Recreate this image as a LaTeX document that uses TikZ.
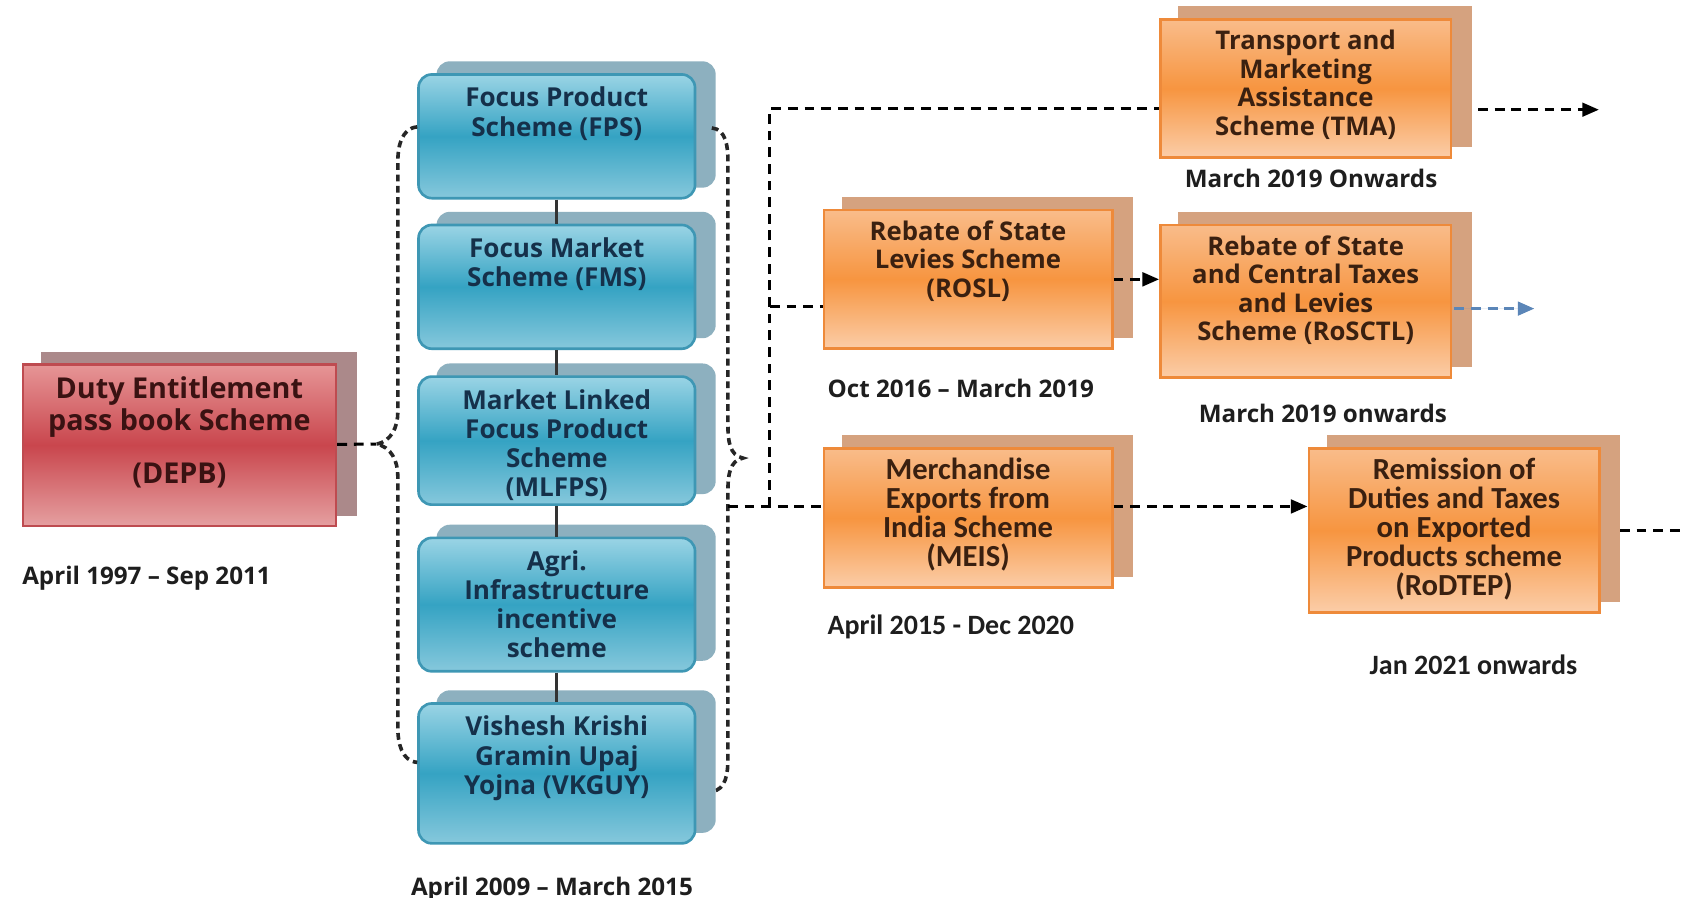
\documentclass[tikz,border=0pt]{standalone}
\usepackage{fontspec}
\setmainfont{Open Sans}
\newfontfamily\calibfont{Carlito}
\usetikzlibrary{arrows.meta}
\usetikzlibrary{positioning}
\usetikzlibrary{backgrounds}

\definecolor{redtop}{HTML}{E69596}
\definecolor{redmid}{HTML}{C9464D}
\definecolor{redbot}{HTML}{E5A0A1}
\definecolor{redline}{HTML}{BE4B50}
\definecolor{redback}{HTML}{AB898A}
\definecolor{redtext}{HTML}{3A1212}
\definecolor{bluetop}{HTML}{9AD4E5}
\definecolor{bluemid}{HTML}{35A3C3}
\definecolor{bluebot}{HTML}{86C8DC}
\definecolor{blueline}{HTML}{3E97B4}
\definecolor{blueback}{HTML}{8DB0BF}
\definecolor{bluetext}{HTML}{15304A}
\definecolor{orangetop}{HTML}{F9BC8A}
\definecolor{orangemid}{HTML}{F79540}
\definecolor{orangebot}{HTML}{FBCDA8}
\definecolor{orangeline}{HTML}{EE8A3A}
\definecolor{orangeback}{HTML}{D5A27F}
\definecolor{orangetext}{HTML}{3A2010}
\definecolor{datetext}{HTML}{1E1E1E}
\definecolor{tailblue}{HTML}{5B86B8}

\begin{document}
\lineskiplimit=-10pt
\begin{tikzpicture}[x=0.01cm, y=0.01cm,
  box/.style={rectangle, anchor=north west, inner sep=0pt, line width=0.7pt},
  depbbox/.style={box, draw=redline, top color=redtop, bottom color=redbot, middle color=redmid},
  schemebox/.style={box, rounded corners=3.5pt, draw=blueline, top color=bluetop, bottom color=bluebot, middle color=bluemid, minimum width=2.57cm},
  newbox/.style={box, draw=orangeline, top color=orangetop, bottom color=orangebot, middle color=orangemid},
  boxtext/.style={align=center, inner sep=0pt},
  depbtext/.style={boxtext, text=redtext, font=\bfseries\fontsize{7.6}{8.5}\selectfont},
  schemetext/.style={boxtext, text=bluetext, font=\bfseries\fontsize{6.9}{7.7}\selectfont},
  newtext/.style={boxtext, text=orangetext, font=\bfseries\fontsize{6.8}{7.5}\selectfont},
  newtextc/.style={boxtext, text=orangetext, font=\calibfont\bfseries\fontsize{8.1}{7.65}\selectfont},
  datelabel/.style={inner sep=0pt, text=datetext, font=\bfseries\fontsize{6.4}{7.5}\selectfont},
  datelabelc/.style={inner sep=0pt, text=datetext, font=\calibfont\bfseries\fontsize{7.4}{8}\selectfont},
  link/.style={draw=black, line width=0.8pt, dash pattern=on 2.6pt off 1.8pt},
  bracket/.style={draw=black!85, line width=0.95pt, dash pattern=on 1.8pt off 1.2pt},
  joint/.style={draw=black!80, line width=0.9pt},
  headtip/.style={-{Triangle[length=4.4pt, width=3.6pt]}},
]

  \useasboundingbox (0,0) rectangle (1568,-835);

  % old scheme
  \node[depbbox, minimum width=2.91cm, minimum height=1.50cm] (depb) at (20,-338) {};
  \node[depbtext, below=3.3pt of depb.north] (depb-text) {Duty Entitlement\\pass book Scheme\\[5.4pt](DEPB)};
  \node[datelabel, below=9.9pt of depb.south west, anchor=north west] (depb-date) {April 1997 -- Sep 2011};

  % schemes 2009 - 2015
  \node[schemebox, minimum height=1.15cm] (fps) at (388,-68) {};
  \node[schemebox, minimum height=1.15cm] (fms) at (388,-208) {};
  \node[schemebox, minimum height=1.19cm] (mlfps) at (388,-349) {};
  \node[schemebox, minimum height=1.24cm] (agri) at (388,-499) {};
  \node[schemebox, minimum height=1.30cm] (vkguy) at (388,-653) {};

  \node[schemetext, below=3.5pt of fps.north] (fps-text) {Focus Product\\Scheme (FPS)};
  \node[schemetext, below=3.5pt of fms.north] (fms-text) {Focus Market\\Scheme (FMS)};
  \node[schemetext, below=3.5pt of mlfps.north] (mlfps-text) {Market Linked\\Focus Product\\Scheme\\(MLFPS)};
  \node[schemetext, below=3.5pt of agri.north] (agri-text) {Agri.\\Infrastructure\\incentive\\scheme};
  \node[schemetext, below=3.5pt of vkguy.north] (vkguy-text) {Vishesh Krishi\\Gramin Upaj\\Yojna (VKGUY)};
  \node[datelabel, below=8.3pt of vkguy.south, xshift=-0.045cm] (column-date) {April 2009 -- March 2015};

  \draw[joint] (fps) -- (fms);
  \draw[joint] (fms) -- (mlfps);
  \draw[joint] (mlfps) -- (agri);
  \draw[joint] (agri) -- (vkguy);

  % later schemes
  \node[newbox, minimum width=2.70cm, minimum height=1.28cm] (tma) at (1078,-17) {};
  \node[newbox, minimum width=2.68cm, minimum height=1.29cm] (rosl) at (765,-194) {};
  \node[newbox, minimum width=2.70cm, minimum height=1.42cm] (rosctl) at (1078,-208) {};
  \node[newbox, minimum width=2.68cm, minimum height=1.29cm] (meis) at (765,-416) {};
  \node[newbox, minimum width=2.70cm, minimum height=1.52cm] (rodtep) at (1216,-416) {};

  \node[newtext, below=3.0pt of tma.north] (tma-text) {Transport and\\Marketing\\Assistance\\Scheme (TMA)};
  \node[newtext, below=3.0pt of rosl.north] (rosl-text) {Rebate of State\\Levies Scheme\\(ROSL)};
  \node[newtext, below=3.0pt of rosctl.north] (rosctl-text) {Rebate of State\\and Central Taxes\\and Levies\\Scheme (RoSCTL)};
  \node[newtextc, below=2.6pt of meis.north] (meis-text) {Merchandise\\Exports from\\India Scheme\\(MEIS)};
  \node[newtextc, below=2.6pt of rodtep.north] (rodtep-text) {Remission of\\Duties and Taxes\\on Exported\\Products scheme\\(RoDTEP)};

  \node[datelabel, below=2.5pt of tma.south, xshift=0.05cm] (tma-date) {March 2019 Onwards};
  \node[datelabel, below=7.4pt of rosl.south west, anchor=north west, xshift=0.04cm] (rosl-date) {Oct 2016 -- March 2019};
  \node[datelabel, below=6.5pt of rosctl.south, xshift=0.16cm] (rosctl-date) {March 2019 onwards};
  \node[datelabelc, below=6.7pt of meis.south west, anchor=north west, xshift=0.04cm] (meis-date) {April 2015 - Dec 2020};
  \node[datelabelc, below=10.7pt of rodtep.south, xshift=0.18cm] (rodtep-date) {Jan 2021 onwards};

  % shadow copies behind the boxes
  \begin{scope}[on background layer]
    \fill[white] (0,0) rectangle (1568,-835);
    \fill[redback] ([shift={(18,11)}]depb.south west) rectangle ([shift={(18,11)}]depb.north east);
    \foreach \boxname in {fps, fms, mlfps, agri, vkguy}
      \fill[blueback, rounded corners=3.5pt] ([shift={(18,11)}]\boxname.south west) rectangle ([shift={(18,11)}]\boxname.north east);
    \foreach \boxname in {tma, rosl, rosctl, meis, rodtep}
      \fill[orangeback] ([shift={(18,11)}]\boxname.south west) rectangle ([shift={(18,11)}]\boxname.north east);
  \end{scope}

  % braces round the 2009 - 2015 column
  \coordinate (brace-in) at (350,-413);
  \coordinate (brace-out) at (677,-471);
  \draw[bracket] (388,-118) to[out=185,in=90] (370,-150) -- (370,-383)
    to[out=-90,in=10] (brace-in) to[out=-10,in=90] (370,-443) -- (370,-677)
    to[out=-90,in=175] (388,-709);
  \draw[bracket] (662,-119) to[out=-5,in=90] (677,-150) -- (677,-396)
    to[out=-90,in=170] (691,-426) to[out=190,in=90] (677,-456) -- (677,-705)
    to[out=-90,in=5] (662,-736);

  % connectors
  \coordinate (trunk-top) at (716,-101);
  \coordinate (trunk-mid) at (716,-285);
  \coordinate (trunk-low) at (716,-471);
  \coordinate (tma-next) at (1487,-102);
  \coordinate (rosctl-next) at (1427,-287);
  \coordinate (rodtep-next) at (1562,-493);

  \draw[link] (depb) -- (brace-in);
  \draw[link] (brace-out) -- (meis.west |- brace-out);
  \draw[link] (trunk-low) -- (trunk-top) -- (tma.west |- trunk-top);
  \draw[link] (trunk-mid) -- (rosl.west |- trunk-mid);

  \draw[link, headtip] (rosl.east) -- (rosctl.west |- rosl.east);
  \draw[link, headtip] (meis.east |- brace-out) -- (rodtep.west |- brace-out);
  \draw[link, headtip, shorten <=0.24cm] (tma.east |- tma-next) -- (tma-next);
  \draw[link, headtip, draw=tailblue, fill=tailblue, shorten <=0.02cm] (rosctl.east |- rosctl-next) -- (rosctl-next);
  \draw[link, shorten <=0.18cm] (rodtep.east |- rodtep-next) -- (rodtep-next);

\end{tikzpicture}
\end{document}
